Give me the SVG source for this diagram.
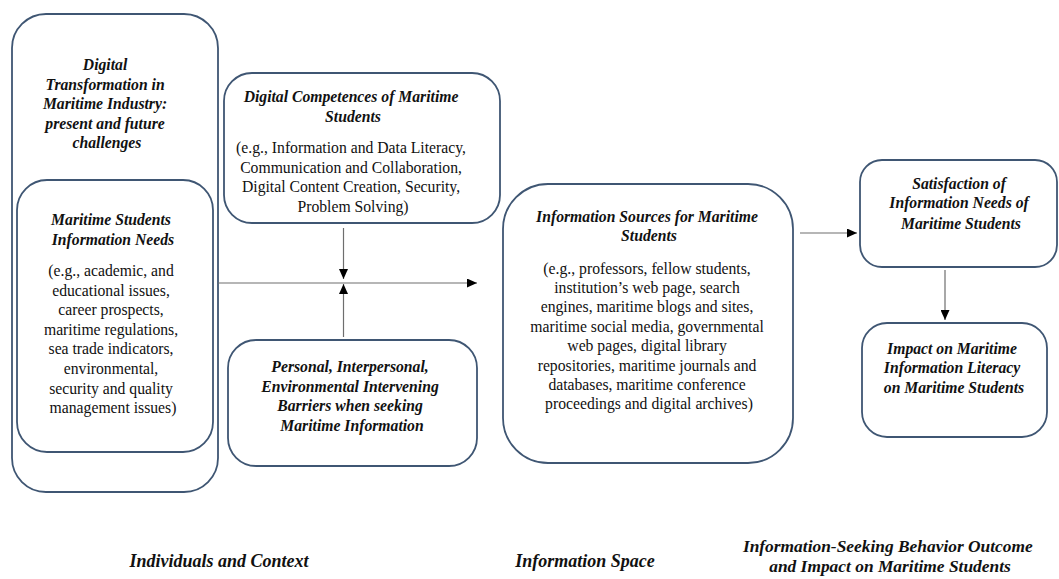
<svg xmlns="http://www.w3.org/2000/svg" width="1059" height="579" viewBox="0 0 1059 579">
  <style>
    .box { fill: #ffffff; stroke: #3f5673; stroke-width: 1.8; }
    .t { font-family: "Liberation Serif", "Times New Roman", serif; font-size: 15.7px; fill: #111; text-anchor: middle; }
    .h { font-weight: bold; font-style: italic; }
    .lbl { font-family: "Liberation Serif", "Times New Roman", serif; font-size: 18px; font-weight: bold; font-style: italic; fill: #111; text-anchor: middle; }
    .lbl2 { font-size: 17.4px; }
    .link { stroke: #6e6e6e; stroke-width: 1.2; fill: none; marker-end: url(#head); }
  </style>
  <defs>
    <marker id="head" markerUnits="userSpaceOnUse" markerWidth="10" markerHeight="9" refX="10" refY="4.5" orient="auto">
      <path d="M0,0 L10,4.5 L0,9 z" fill="#000"/>
    </marker>
  </defs>
  <rect width="1059" height="579" fill="#ffffff"/>

  <!-- context frame -->
  <g id="digital-transformation">
    <rect class="box" x="12" y="14" width="206" height="478" rx="34" ry="34"/>
    <text class="t h" x="107">
      <tspan x="107" y="70">Digital</tspan>
      <tspan x="107" y="89.6">Transformation in</tspan>
      <tspan x="107" y="109.2">Maritime Industry:</tspan>
      <tspan x="107" y="128.8">present and future</tspan>
      <tspan x="107" y="148.4">challenges</tspan>
    </text>
  </g>

  <g id="information-needs">
    <rect class="box" x="17" y="180" width="196" height="272" rx="30" ry="30"/>
    <text class="t h">
      <tspan x="113" y="224.5">Maritime Students</tspan>
      <tspan x="113" y="244.5">Information Needs</tspan>
    </text>
    <text class="t">
      <tspan x="113" y="276">(e.g., academic, and</tspan>
      <tspan x="113" y="295.6">educational issues,</tspan>
      <tspan x="113" y="315.2">career prospects,</tspan>
      <tspan x="113" y="334.8">maritime regulations,</tspan>
      <tspan x="113" y="354.4">sea trade indicators,</tspan>
      <tspan x="113" y="374">environmental,</tspan>
      <tspan x="113" y="393.6">security and quality</tspan>
      <tspan x="113" y="413">management issues)</tspan>
    </text>
  </g>

  <g id="digital-competences">
    <rect class="box" x="224" y="73" width="276" height="150" rx="28" ry="28"/>
    <text class="t h">
      <tspan x="353" y="102">Digital Competences of Maritime</tspan>
      <tspan x="353" y="121.5">Students</tspan>
    </text>
    <text class="t">
      <tspan x="353" y="153">(e.g., Information and Data Literacy,</tspan>
      <tspan x="353" y="172.5">Communication and Collaboration,</tspan>
      <tspan x="353" y="192">Digital Content Creation, Security,</tspan>
      <tspan x="353" y="211.5">Problem Solving)</tspan>
    </text>
  </g>

  <g id="barriers">
    <rect class="box" x="228" y="340" width="249" height="126" rx="28" ry="28"/>
    <text class="t h">
      <tspan x="352" y="372">Personal, Interpersonal,</tspan>
      <tspan x="352" y="391.5">Environmental Intervening</tspan>
      <tspan x="352" y="411">Barriers when seeking</tspan>
      <tspan x="352" y="430.5">Maritime Information</tspan>
    </text>
  </g>

  <g id="information-sources">
    <rect class="box" x="503" y="184" width="290" height="279" rx="45" ry="45"/>
    <text class="t h">
      <tspan x="649" y="221.5">Information Sources for Maritime</tspan>
      <tspan x="649" y="240.5">Students</tspan>
    </text>
    <text class="t">
      <tspan x="649" y="273.5">(e.g., professors, fellow students,</tspan>
      <tspan x="649" y="292.9">institution’s web page, search</tspan>
      <tspan x="649" y="312.3">engines, maritime blogs and sites,</tspan>
      <tspan x="649" y="331.7">maritime social media, governmental</tspan>
      <tspan x="649" y="351.1">web pages, digital library</tspan>
      <tspan x="649" y="370.5">repositories, maritime journals and</tspan>
      <tspan x="649" y="389.9">databases, maritime conference</tspan>
      <tspan x="649" y="409.3">proceedings and digital archives)</tspan>
    </text>
  </g>

  <g id="satisfaction">
    <rect class="box" x="860" y="160" width="197" height="107" rx="22" ry="22"/>
    <text class="t h">
      <tspan x="961" y="188.5">Satisfaction of</tspan>
      <tspan x="961" y="208">Information Needs of</tspan>
      <tspan x="961" y="228.5">Maritime Students</tspan>
    </text>
  </g>

  <g id="impact">
    <rect class="box" x="862" y="323" width="185" height="114" rx="25" ry="25"/>
    <text class="t h">
      <tspan x="954" y="353.5">Impact on Maritime</tspan>
      <tspan x="954" y="373">Information Literacy</tspan>
      <tspan x="954" y="392.5">on Maritime Students</tspan>
    </text>
  </g>

  <!-- connectors -->
  <g id="connectors">
    <line class="link" x1="218" y1="283" x2="477" y2="283"/>
    <line class="link" x1="343.5" y1="228" x2="343.5" y2="279"/>
    <line class="link" x1="343.5" y1="337" x2="343.5" y2="284"/>
    <line class="link" x1="800" y1="233" x2="857" y2="233"/>
    <line class="link" x1="945" y1="270" x2="945" y2="320"/>
  </g>

  <!-- column captions -->
  <g id="captions">
    <text class="lbl" x="219" y="567">Individuals and Context</text>
    <text class="lbl" x="585" y="567">Information Space</text>
    <text class="lbl lbl2">
      <tspan x="890" y="552">Information-Seeking Behavior Outcome</tspan>
      <tspan x="890" y="571.5">and Impact on Maritime Students</tspan>
    </text>
  </g>
</svg>
